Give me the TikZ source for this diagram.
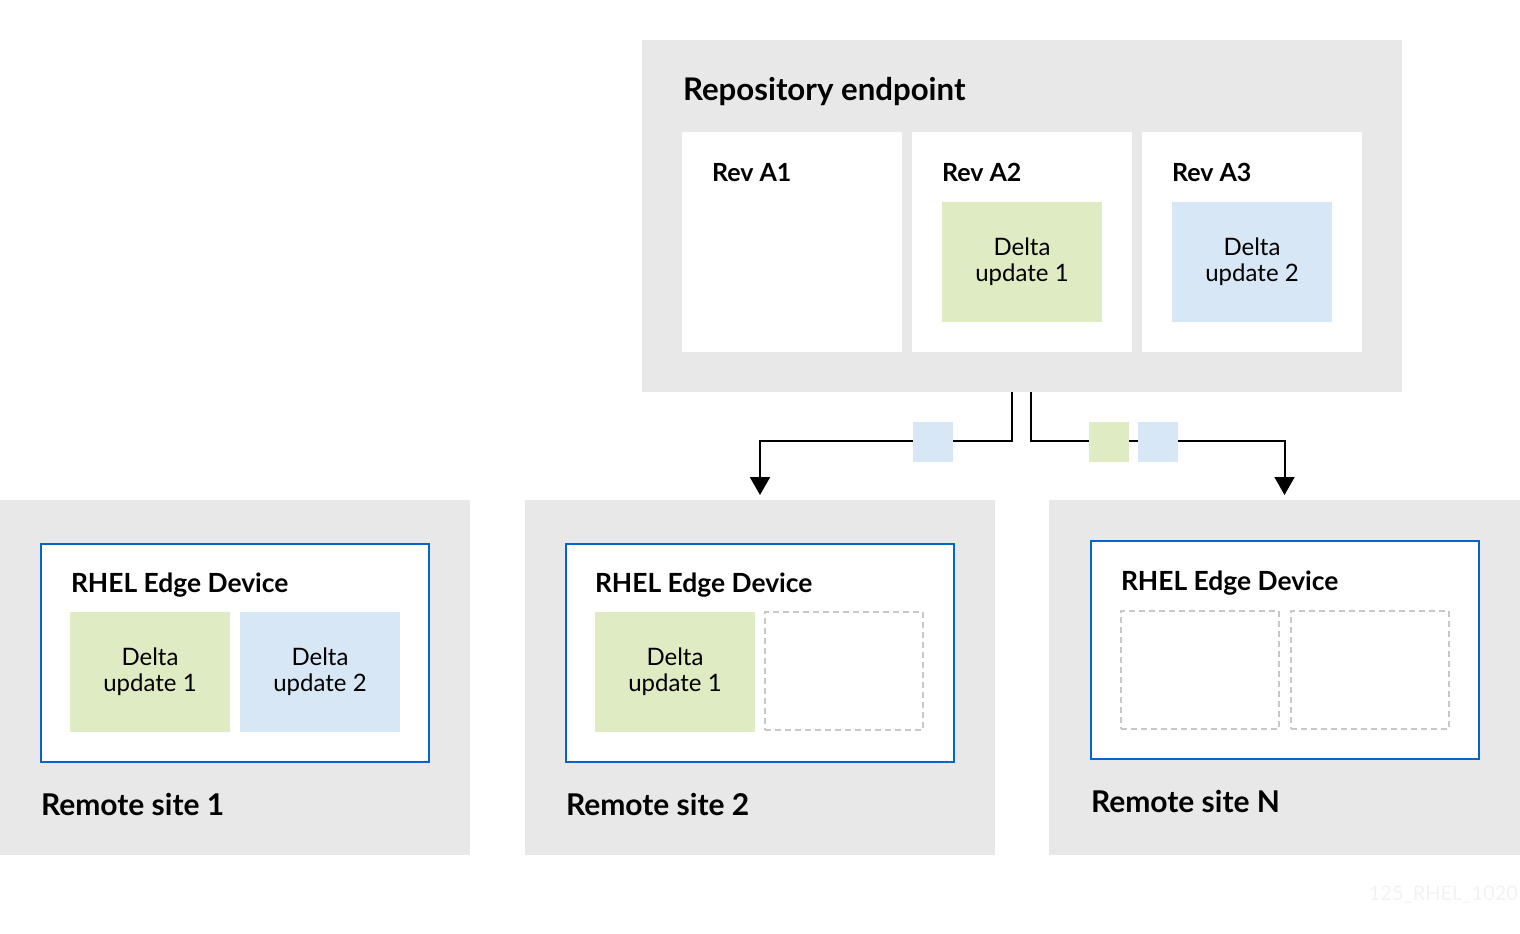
\documentclass[tikz,border=0pt]{standalone}
\usepackage{fontspec}
\setmainfont{Lato}
\usetikzlibrary{arrows.meta}
\definecolor{boxgray}{HTML}{E8E8E8}
\definecolor{deltagreen}{HTML}{DFEBC2}
\definecolor{deltablue}{HTML}{D8E7F6}
\definecolor{edgeblue}{HTML}{0066CC}
\definecolor{dashgray}{HTML}{C8C8C8}
\definecolor{markgray}{HTML}{F2F2F2}
\begin{document}
\begin{tikzpicture}
[x=0.5pt,y=-0.5pt,%
  every node/.style={inner sep=0pt,outer sep=0pt},%
  panel/.style 2 args={anchor=north west,minimum width=#1,minimum height=#2},%
  graybox/.style={fill=boxgray},%
  revbox/.style={fill=white,panel={110pt}{110pt}},%
  delta/.style={panel={80pt}{60pt},align=center,font=\fontsize{12}{13}\selectfont},%
  empty/.style={panel={79pt}{59pt},draw=dashgray,dash pattern=on 3pt off 2pt,line width=0.6pt},%
  device/.style={fill=white,draw=edgeblue,line width=1pt,panel={194pt}{109pt}},%
  label/.style={anchor=base west,font=\fontsize{12.5}{14}\selectfont\bfseries},%
  devlabel/.style={anchor=base west,font=\fontsize{13.2}{15}\selectfont\bfseries},%
  title/.style={anchor=base west,font=\fontsize{15}{17}\selectfont\bfseries},%
  packet/.style={minimum size=20pt},%
  arr/.style={line width=1pt,-{Triangle[width=10pt,length=9pt]}}]
\useasboundingbox (0,0) rectangle (1520,933);
\node[graybox,panel={380pt}{176pt}] (repo) at (642,40) {};
\node[title,font=\fontsize{15.6}{17}\selectfont\bfseries] (repotitle) at (683,100) {Repository endpoint};
\node[revbox] (reva1) at (682,132) {};
\node[revbox] (reva2) at (912,132) {};
\node[revbox] (reva3) at (1142,132) {};
\node[label] at (712,181) {Rev A1};
\node[label] at (942,181) {Rev A2};
\node[label] at (1172,181) {Rev A3};
\node[delta,fill=deltagreen] (repod1) at (942,202) {Delta\\update 1};
\node[delta,fill=deltablue] (repod2) at (1172,202) {Delta\\update 2};

\node[graybox,panel={235pt}{177.5pt}] (site1) at (0,500) {};
\node[graybox,panel={235pt}{177.5pt}] (site2) at (525,500) {};
\node[graybox,panel={235.5pt}{177.5pt}] (siten) at (1049,500) {};

\node[device] (dev1) at (41,544) {};
\node[devlabel] at (71,592) {RHEL Edge Device};
\node[delta,fill=deltagreen] (dev1d1) at (70,612) {Delta\\update 1};
\node[delta,fill=deltablue] (dev1d2) at (240,612) {Delta\\update 2};
\node[title] at (41,815) {Remote site 1};

\node[device] (dev2) at (566,544) {};
\node[devlabel] at (595,592) {RHEL Edge Device};
\node[delta,fill=deltagreen] (dev2d1) at (595,612) {Delta\\update 1};
\node[empty] (dev2e) at (765,612) {};
\node[title] at (566,815) {Remote site 2};

\node[device] (devn) at (1091,541) {};
\node[devlabel] at (1121,590) {RHEL Edge Device};
\node[empty] (devne1) at (1121,611) {};
\node[empty] (devne2) at (1291,611) {};
\node[title] at (1091,812) {Remote site N};

\draw[arr] ([xshift=-5pt]repo.south) -- ++(0,49) -| ([yshift=2.5pt]site2.north);
\draw[arr] ([xshift=4.5pt]repo.south) -- ++(0,49) -| ([yshift=2.5pt]siten.north);
\node[packet,fill=deltablue] (pk2) at (933,442) {};
\node[packet,fill=deltagreen] (pkn1) at (1109,442) {};
\node[packet,fill=deltablue] (pkn2) at (1158,442) {};

\node[anchor=base east,text=markgray,font=\fontsize{10}{12}\selectfont] (mark) at (1518,900) {125\_RHEL\_1020};
\end{tikzpicture}
\end{document}
